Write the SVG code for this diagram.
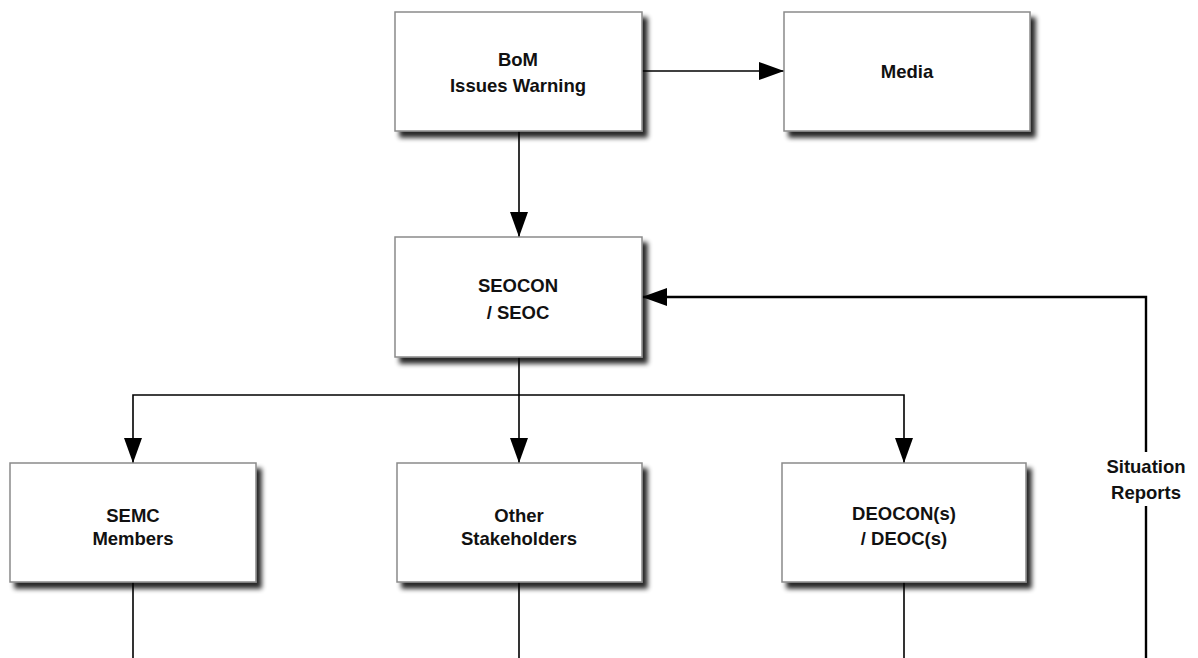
<svg xmlns="http://www.w3.org/2000/svg" width="1198" height="658" viewBox="0 0 1198 658">
<defs>
<filter id="sh" x="-10%" y="-10%" width="130%" height="140%">
<feGaussianBlur in="SourceAlpha" stdDeviation="2.5"/>
<feOffset dx="5" dy="6" result="b"/>
<feComponentTransfer><feFuncA type="linear" slope="0.85"/></feComponentTransfer>
<feMerge><feMergeNode/><feMergeNode in="SourceGraphic"/></feMerge>
</filter>
<marker id="ah" viewBox="0 0 25 18" refX="25" refY="9" markerWidth="25" markerHeight="18" markerUnits="userSpaceOnUse" orient="auto">
<path d="M0,0 L25,9 L0,18 Z" fill="#000"/>
</marker>
<style>
.box{fill:#fff;stroke:#8a8a8a;stroke-width:1.5;filter:url(#sh)}
.t{font-family:"Liberation Sans",Arial,sans-serif;font-weight:bold;font-size:18.5px;fill:#111;text-anchor:middle}
.c{fill:none;stroke:#000;stroke-width:1.6}
.c2{fill:none;stroke:#000;stroke-width:2.4}
</style>
</defs>
<rect width="1198" height="658" fill="#fff"/>
<g id="connectors">
<path class="c" d="M642,71 L784,71" marker-end="url(#ah)"/>
<path class="c" d="M519,131 L519,237" marker-end="url(#ah)"/>
<path class="c" d="M519,357 L519,463" marker-end="url(#ah)"/>
<path class="c" d="M519,395 L133,395 L133,463" marker-end="url(#ah)"/>
<path class="c" d="M519,395 L904,395 L904,463" marker-end="url(#ah)"/>
<path class="c" d="M133,582 L133,658"/>
<path class="c" d="M519,582 L519,658"/>
<path class="c" d="M904,582 L904,658"/>
<path class="c2" d="M1146,452 L1146,297 L642,297" marker-end="url(#ah)"/>
<path class="c2" d="M1146,506 L1146,658"/>
<text class="t" x="1146" y="473">Situation</text>
<text class="t" x="1146" y="499">Reports</text>
</g>
<g id="bom">
<rect class="box" x="395" y="12" width="247" height="119"/>
<text class="t" x="518" y="66">BoM</text>
<text class="t" x="518" y="92">Issues Warning</text>
</g>
<g id="media">
<rect class="box" x="784" y="12" width="246" height="119"/>
<text class="t" x="907" y="78">Media</text>
</g>
<g id="seocon">
<rect class="box" x="395" y="237" width="247" height="120"/>
<text class="t" x="518" y="292">SEOCON</text>
<text class="t" x="518" y="319">/ SEOC</text>
</g>
<g id="semc">
<rect class="box" x="10" y="463" width="246" height="119"/>
<text class="t" x="133" y="522">SEMC</text>
<text class="t" x="133" y="545">Members</text>
</g>
<g id="other">
<rect class="box" x="397" y="463" width="245" height="119"/>
<text class="t" x="519" y="522">Other</text>
<text class="t" x="519" y="545">Stakeholders</text>
</g>
<g id="deocon">
<rect class="box" x="782" y="463" width="244" height="119"/>
<text class="t" x="904" y="520">DEOCON(s)</text>
<text class="t" x="904" y="545">/ DEOC(s)</text>
</g>
</svg>
